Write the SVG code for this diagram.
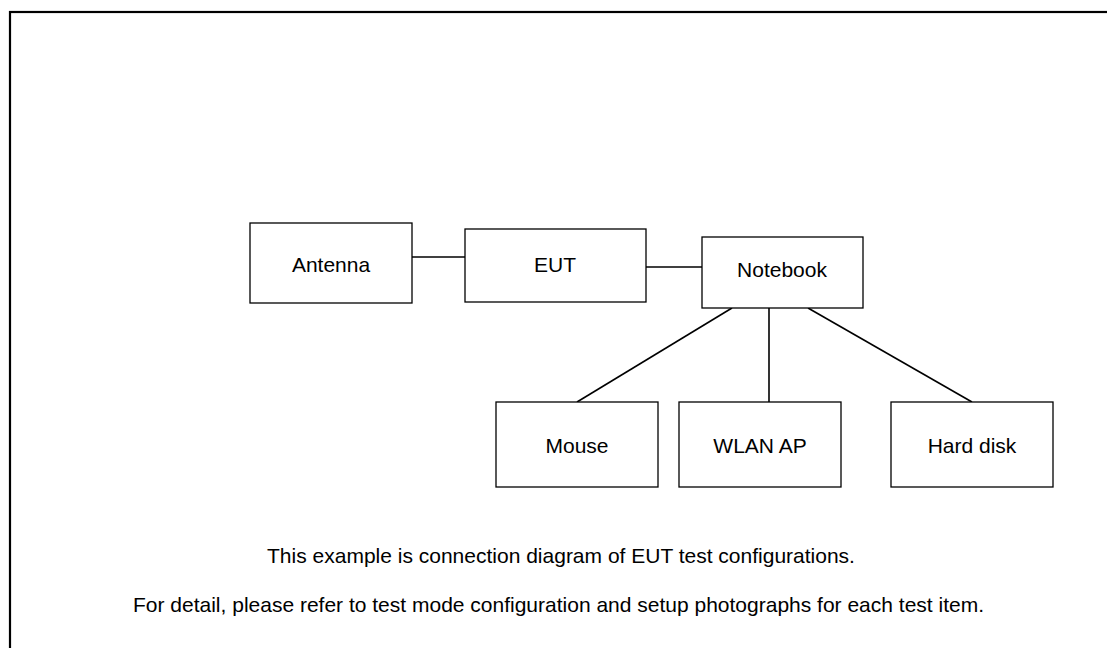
<svg xmlns="http://www.w3.org/2000/svg" width="1107" height="648" viewBox="0 0 1107 648">
<style>
.box{fill:#fff;stroke:#000;stroke-width:1.3}
.lbl{font-family:"Liberation Sans",Arial,sans-serif;font-size:21px;fill:#000;text-anchor:middle}
.cap{font-family:"Liberation Sans",Arial,sans-serif;font-size:21px;fill:#000;text-anchor:middle}
.conn{stroke:#000;stroke-width:1.6;fill:none}
</style>
<rect x="0" y="0" width="1107" height="648" fill="#fff"/>
<rect id="frame" x="10" y="12" width="1120" height="660" fill="none" stroke="#000" stroke-width="2.2"/>
<g id="connectors">
<line class="conn" x1="412" y1="257" x2="465" y2="257"/>
<line class="conn" x1="646" y1="267" x2="702" y2="267"/>
<line class="conn" x1="732" y1="308" x2="577" y2="402"/>
<line class="conn" x1="769" y1="308" x2="769" y2="402"/>
<line class="conn" x1="808" y1="308" x2="972" y2="402"/>
</g>
<g id="antenna"><rect class="box" x="250" y="223" width="162" height="80"/><text class="lbl" x="331" y="272">Antenna</text></g>
<g id="eut"><rect class="box" x="465" y="229" width="181" height="73"/><text class="lbl" x="555" y="272">EUT</text></g>
<g id="notebook"><rect class="box" x="702" y="237" width="161" height="71"/><text class="lbl" x="782" y="277">Notebook</text></g>
<g id="mouse"><rect class="box" x="496" y="402" width="162" height="85"/><text class="lbl" x="577" y="453">Mouse</text></g>
<g id="wlanap"><rect class="box" x="679" y="402" width="162" height="85"/><text class="lbl" x="760" y="453">WLAN AP</text></g>
<g id="harddisk"><rect class="box" x="891" y="402" width="162" height="85"/><text class="lbl" x="972" y="453">Hard disk</text></g>
<g id="captions">
<text class="cap" x="561" y="563">This example is connection diagram of EUT test configurations.</text>
<text class="cap" x="558.5" y="612">For detail, please refer to test mode configuration and setup photographs for each test item.</text>
</g>
</svg>
